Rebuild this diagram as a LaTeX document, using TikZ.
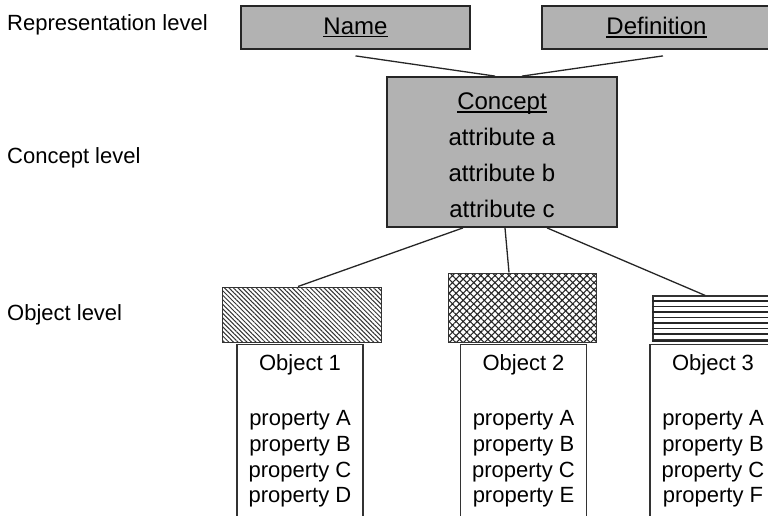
\documentclass[tikz,border=0pt]{standalone}
\usepackage{fontspec}
\setmainfont{Liberation Sans}
\usetikzlibrary{patterns.meta,calc}
% thick underline for the box headings
\newcommand\ulword[1]{\setbox0\hbox{#1}\rlap{\rule[-3.2pt]{\wd0}{1.6pt}}\box0}
\begin{document}
\begin{tikzpicture}[x=1pt,y=-1pt,
  lbl/.style={anchor=west, font=\fontsize{22}{26}\selectfont, inner sep=0pt},
  greybox/.style={draw=black!85, line width=1.8pt, fill=black!30,
    minimum width=229pt, minimum height=43pt, inner sep=0pt,
    font=\fontsize{24}{28}\selectfont},
  objbox/.style={draw=black!80, line width=1.3pt, fill=white,
    minimum width=126pt, minimum height=180pt, inner sep=0pt, anchor=north},
  hatchbox/.style={draw=black!80, line width=0.9pt, inner sep=0pt},
  link/.style={draw=black!85, line width=1.3pt},
  txt/.style={font=\fontsize{22}{25.6}\selectfont, align=center, inner sep=0pt}
]
\clip (0,0) rectangle (768,516);

% level labels
\node[lbl] (lrep) at (7,25) {Representation level};
\node[lbl] (lcon) at (7,158) {Concept level};
\node[lbl] (lobj) at (7,315) {Object level};

% representation level
\node[greybox] (name) at (355.5,27.5) {\ulword{Name}};
\node[greybox] (def) at (656.5,27.5) {\ulword{Definition}};

% concept level
\node[greybox, minimum width=230pt, minimum height=150pt] (concept) at (502,152) {};
\node[align=center, inner sep=0pt, font=\fontsize{24}{36}\selectfont] (ctext)
  at (502,155.5) {\ulword{Concept}\\attribute a\\attribute b\\attribute c};

% object level: patterned symbols
\node[hatchbox, pattern={Lines[angle=-45,distance=3.2pt,line width=1pt]},
  pattern color=black!80,
  minimum width=159pt, minimum height=55pt] (h1) at (301.5,314.5) {};
\node[hatchbox, pattern={Hatch[angle=45,distance=5pt,line width=1.1pt]},
  pattern color=black!85,
  minimum width=148pt, minimum height=69pt] (h2) at (522,307.5) {};
\node[hatchbox, line width=1.3pt, minimum width=147pt, minimum height=44pt]
  (h3) at (726.5,318) {};
\foreach \k in {1,...,7}
  \draw[black!85, line width=1.4pt]
    ($(h3.north west)+(0,5.5*\k)$) -- ($(h3.north east)+(0,5.5*\k)$);
\draw[black!85, line width=2.2pt] (h3.south west) -- (h3.south east);

% object boxes
\node[objbox] (o1) at (300,344) {};
\node[objbox] (o2) at (523.5,344) {};
\node[objbox] (o3) at (713,344) {};

\node[txt] (t1) at (300,365) {Object 1};
\node[txt] (t2) at (523.5,365) {Object 2};
\node[txt] (t3) at (713,365) {Object 3};

\node[txt] (p1) at (300,459) {property A\\property B\\property C\\property D};
\node[txt] (p2) at (523.5,459) {property A\\property B\\property C\\property E};
\node[txt] (p3) at (713,459) {property A\\property B\\property C\\property F};

% connectors
\draw[link] ($(name.south)+(0,6)$) -- ($(concept.north)+(-7,0)$);
\draw[link] ($(def.south)+(6.5,6)$) -- ($(concept.north)+(20,0)$);
\draw[link] ($(concept.south)+(-39,0)$) -- ($(h1.north)+(-3.5,0)$);
\draw[link] ($(concept.south)+(3,0)$) -- ($(h2.north)+(-13,0)$);
\draw[link] ($(concept.south)+(45,0)$) -- ($(h3.north)+(-21.5,0)$);
\end{tikzpicture}
\end{document}
